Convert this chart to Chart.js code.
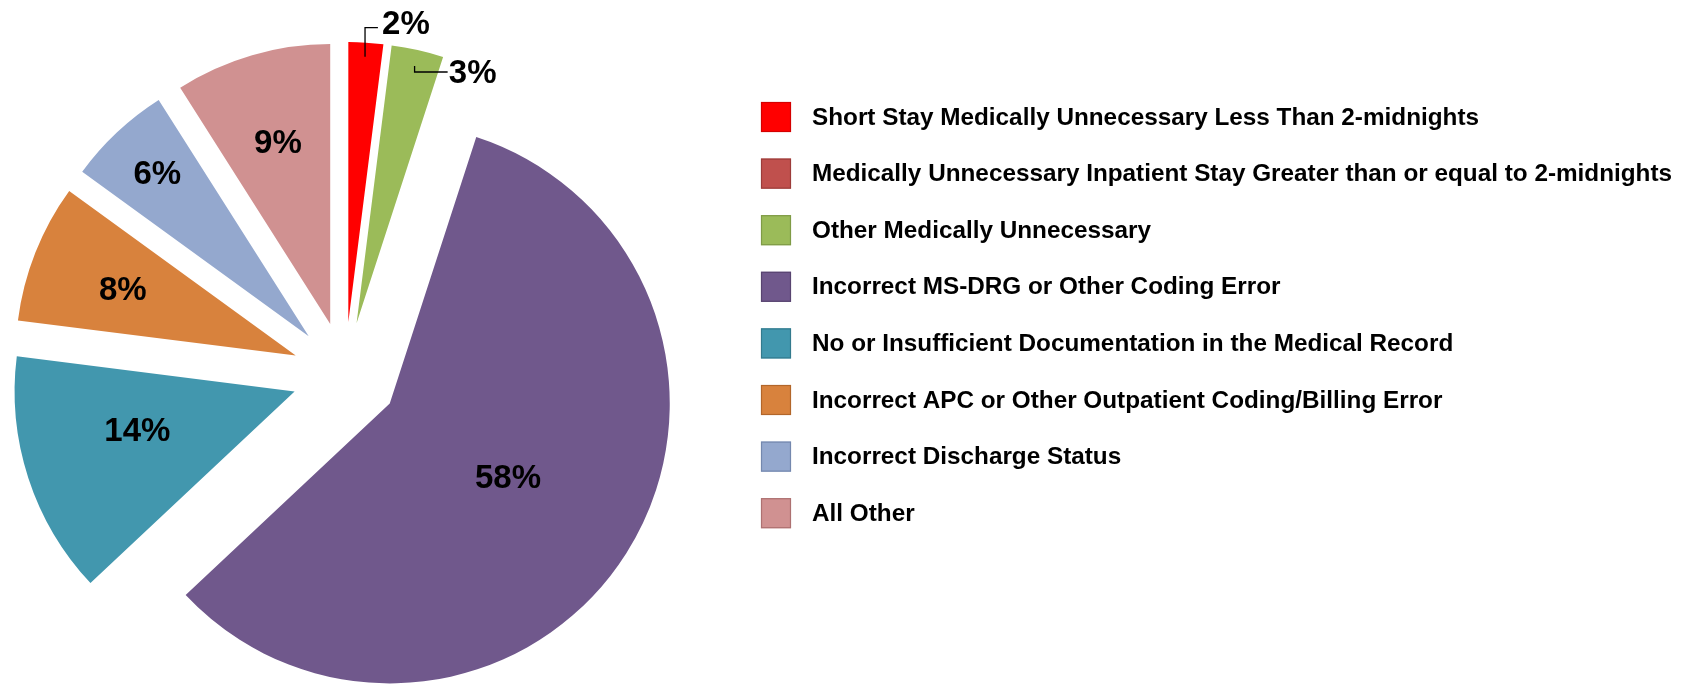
<!DOCTYPE html>
<html>
<head>
<meta charset="utf-8">
<title>Improper payment error categories</title>
<script src="https://cdn.jsdelivr.net/npm/chart.js@4/dist/chart.umd.min.js"></script>
<style>
  html, body { margin: 0; padding: 0; background: #ffffff; overflow: hidden; }
  #wrap { position: relative; width: 1687px; height: 684px; }
  canvas { display: block; }
</style>
</head>
<body>
<div id="wrap"><canvas id="pie" width="1687" height="684"></canvas></div>
<script>
// Error categories, in pie order (clockwise from 12 o'clock)
const categories = [
  'Short Stay Medically Unnecessary Less Than 2-midnights',
  'Medically Unnecessary Inpatient Stay Greater than or equal to 2-midnights',
  'Other Medically Unnecessary',
  'Incorrect MS-DRG or Other Coding Error',
  'No or Insufficient Documentation in the Medical Record',
  'Incorrect APC or Other Outpatient Coding/Billing Error',
  'Incorrect Discharge Status',
  'All Other'
];

// Share of errors, percent
const shares = [2, 0, 3, 58, 14, 8, 6, 9];

// Slice fills and matching legend-swatch outlines
const sliceColors = ['#ff0000', '#c0504d', '#9bbb59', '#70588c', '#4297ae', '#d8823d', '#94a8ce', '#d09191'];
const swatchEdges = ['#d40000', '#9c3c3a', '#7f9b46', '#584470', '#337a8d', '#b2662a', '#7488ae', '#ad7171'];

// Styling for the value labels: radial placement (fraction of radius) for
// labels inside a slice, plus a small turn in degrees; null depth means the
// label sits outside the slice with a leader line.
const labelDepth = [null, null, null, 0.50, 0.58, 0.66, 0.79, 0.67];
const labelTurn = [0, 0, 0, 0, 3.5, -1, 0, 0];

const EXPLODE = 53;        // every slice pulled out from the centre by this much
const PIE_RADIUS = 280;
const LABEL_FONT = 'bold 33px "Liberation Sans", Arial, sans-serif';
const LEGEND_FONT = 'bold 24.3px "Liberation Sans", Arial, sans-serif';

// Draw each slice shifted outward along its own bisector (exploded pie).
const explodedSlices = {
  id: 'explodedSlices',
  beforeDatasetDraw(chart, args) {
    const ctx = chart.ctx;
    args.meta.data.forEach(arc => {
      if (!arc.circumference) return;
      const mid = (arc.startAngle + arc.endAngle) / 2;
      ctx.save();
      ctx.translate(Math.cos(mid) * EXPLODE, Math.sin(mid) * EXPLODE);
      arc.draw(ctx);
      ctx.restore();
    });
    return false;
  }
};

// Percentage labels, inside the larger slices and with leader lines for the thin ones.
const sliceLabels = {
  id: 'sliceLabels',
  afterDatasetsDraw(chart) {
    const ctx = chart.ctx;
    const arcs = chart.getDatasetMeta(0).data;
    ctx.save();
    ctx.font = LABEL_FONT;
    ctx.fillStyle = '#000000';
    ctx.textAlign = 'center';
    ctx.textBaseline = 'middle';
    arcs.forEach((arc, i) => {
      const v = shares[i];
      if (!v) return;
      const mid = (arc.startAngle + arc.endAngle) / 2;
      const cx = arc.x + Math.cos(mid) * EXPLODE;
      const cy = arc.y + Math.sin(mid) * EXPLODE;
      const r = arc.outerRadius;
      const text = v + '%';
      if (labelDepth[i] !== null) {
        const d = r * labelDepth[i];
        const a = mid + labelTurn[i] * Math.PI / 180;
        ctx.fillText(text, cx + Math.cos(a) * d, cy + Math.sin(a) * d);
        return;
      }
      // outside label with an elbow leader line
      const ax = cx + Math.cos(mid) * (r - 14);
      const ay = cy + Math.sin(mid) * (r - 14);
      const ox = cx + Math.cos(mid) * r;
      const oy = cy + Math.sin(mid) * r;
      let tx, ty;
      ctx.beginPath();
      ctx.lineWidth = 1.3;
      ctx.strokeStyle = '#000000';
      if (oy < 46) {
        // label above and to the right
        tx = ox + 40; ty = oy - 18;
        const ly = ty + 3;
        ctx.moveTo(ax, ay);
        ctx.lineTo(ax, ly);
        ctx.lineTo(tx - 28, ly);
      } else {
        // label beside and slightly below
        tx = ox + 55; ty = oy + 24;
        const ly = ty - 2;
        ctx.moveTo(ax, ly - 6);
        ctx.lineTo(ax, ly);
        ctx.lineTo(tx - 25, ly);
      }
      ctx.stroke();
      ctx.fillText(text, tx, ty);
    });
    ctx.restore();
  }
};

// Legend with square swatches, drawn to the right of the pie.
const sideLegend = {
  id: 'sideLegend',
  afterDraw(chart) {
    const ctx = chart.ctx;
    const x0 = 761, y0 = 117, step = 56.6, box = 30;
    ctx.save();
    ctx.font = LEGEND_FONT;
    ctx.textAlign = 'left';
    ctx.textBaseline = 'middle';
    categories.forEach((label, i) => {
      const y = y0 + i * step;
      ctx.fillStyle = sliceColors[i];
      ctx.fillRect(x0, y - box / 2, box, box);
      ctx.lineWidth = 1.2;
      ctx.strokeStyle = swatchEdges[i];
      ctx.strokeRect(x0 + 0.5, y - box / 2 + 0.5, box - 1, box - 1);
      ctx.fillStyle = '#000000';
      ctx.fillText(label, 812, y + 1);
    });
    ctx.restore();
  }
};

new Chart(document.getElementById('pie'), {
  type: 'pie',
  data: {
    labels: categories,
    datasets: [{
      data: shares,
      backgroundColor: sliceColors,
      borderWidth: 0,
      clip: false
    }]
  },
  options: {
    responsive: false,
    animation: false,
    radius: PIE_RADIUS,
    layout: { padding: { left: 0, right: 997, top: 66, bottom: 0 } },
    plugins: {
      legend: { display: false },
      tooltip: { enabled: false }
    }
  },
  plugins: [explodedSlices, sliceLabels, sideLegend]
});
</script>
</body>
</html>
